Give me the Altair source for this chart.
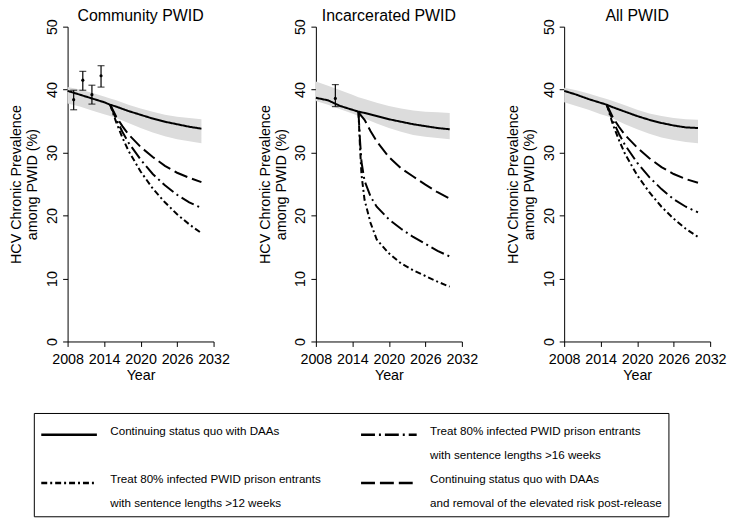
import json
import altair as alt
import pandas as pd

PANELS = ["Community PWID", "Incarcerated PWID", "All PWID"]

SQ_NAME = "Continuing status quo with DAAs"
T16_NAME = "Treat 80% infected PWID prison entrants with sentence lengths >16 weeks"
T12_NAME = "Treat 80% infected PWID prison entrants with sentence lengths >12 weeks"
REM_NAME = "Continuing status quo with DAAs and removal of the elevated risk post-release"

# legend entries fill column by column: (SQ, >12) | (>16, removal)
LEGEND_ORDER = [SQ_NAME, T12_NAME, T16_NAME, REM_NAME]
PAD = "\u00a0" * 8
LEGEND_LINES = [
    ["Continuing status quo with DAAs", ""],
    ["Treat 80% infected PWID prison entrants", "with sentence lengths >12 weeks"],
    ["Treat 80% infected PWID prison entrants", "with sentence lengths >16 weeks"],
    ["Continuing status quo with DAAs", "and removal of the elevated risk post-release" + PAD],
]
DASHES = [[1, 0], [6, 3, 2, 3], [14, 4, 2, 4], [14, 5]]

# Status quo line and uncertainty band
BASE_YEARS = [2008, 2010, 2012, 2014, 2015, 2016, 2018, 2020, 2022, 2024, 2026, 2028, 2030]
SQ = {
    "Community PWID":    [39.8, 39.2, 38.6, 38.0, 37.6, 37.3, 36.6, 36.0, 35.4, 34.9, 34.5, 34.1, 33.8],
    "Incarcerated PWID": [38.7, 38.3, 37.4, 36.8, 36.5, 36.3, 35.8, 35.3, 34.9, 34.5, 34.2, 33.9, 33.7],
    "All PWID":          [39.8, 39.2, 38.5, 37.9, 37.6, 37.2, 36.5, 35.8, 35.2, 34.7, 34.3, 34.0, 33.9],
}
BAND_LO = {
    "Community PWID":    [37.8, 37.3, 36.7, 36.1, 35.8, 35.5, 34.7, 33.9, 33.2, 32.6, 32.1, 31.8, 31.5],
    "Incarcerated PWID": [38.2, 37.6, 36.9, 36.2, 35.8, 35.4, 34.6, 33.9, 33.3, 32.8, 32.5, 32.3, 32.1],
    "All PWID":          [38.0, 37.4, 36.8, 36.1, 35.8, 35.4, 34.5, 33.7, 33.0, 32.4, 32.0, 31.7, 31.5],
}
BAND_HI = {
    "Community PWID":    [40.4, 40.0, 39.5, 38.9, 38.6, 38.3, 37.6, 37.0, 36.5, 36.0, 35.7, 35.5, 35.3],
    "Incarcerated PWID": [41.3, 40.6, 39.9, 39.2, 38.8, 38.5, 37.9, 37.4, 37.0, 36.7, 36.5, 36.4, 36.3],
    "All PWID":          [40.3, 39.9, 39.4, 38.8, 38.5, 38.2, 37.5, 36.8, 36.2, 35.8, 35.5, 35.3, 35.2],
}

# Intervention scenarios (start 2015)
INT_YEARS = {
    "Community PWID":    [2015, 2016, 2017, 2018, 2020, 2022, 2024, 2026, 2028, 2030],
    "Incarcerated PWID": [2015, 2015.25, 2015.5, 2016, 2017, 2018, 2020, 2022, 2024, 2026, 2028, 2030],
    "All PWID":          [2015, 2016, 2017, 2018, 2020, 2022, 2024, 2026, 2028, 2030],
}
TREAT16 = {
    "Community PWID":    [37.6, 35.3, 33.3, 31.6, 28.9, 26.6, 24.8, 23.3, 22.1, 21.2],
    "Incarcerated PWID": [36.5, 32.0, 28.5, 25.5, 23.0, 21.4, 19.4, 17.9, 16.6, 15.5, 14.4, 13.5],
    "All PWID":          [37.6, 35.1, 33.0, 31.2, 28.4, 26.1, 24.2, 22.6, 21.4, 20.5],
}
TREAT12 = {
    "Community PWID":    [37.6, 34.8, 32.4, 30.3, 27.0, 24.3, 22.1, 20.2, 18.6, 17.2],
    "Incarcerated PWID": [36.5, 31.0, 26.5, 22.5, 18.8, 16.2, 14.0, 12.4, 11.3, 10.4, 9.5, 8.7],
    "All PWID":          [37.6, 34.5, 32.0, 29.8, 26.4, 23.7, 21.4, 19.5, 17.9, 16.6],
}
REMOVAL = {
    "Community PWID":    [37.6, 35.7, 34.2, 32.9, 30.9, 29.3, 27.9, 26.8, 26.0, 25.3],
    "Incarcerated PWID": [36.5, 36.1, 35.8, 35.2, 33.4, 31.8, 29.3, 27.5, 26.2, 24.9, 23.7, 22.7],
    "All PWID":          [37.6, 35.6, 34.1, 32.8, 30.8, 29.1, 27.7, 26.6, 25.8, 25.2],
}

# Observed data with 95% CI
OBS_PANEL = ["Community PWID"] * 4 + ["Incarcerated PWID"]
OBS_YEAR = [2009, 2010.5, 2012, 2013.5, 2011.2]
OBS_MID = [38.4, 41.5, 39.2, 42.2, 38.6]
OBS_LO = [36.8, 39.9, 37.7, 40.4, 37.3]
OBS_HI = [39.9, 42.9, 40.7, 43.8, 40.8]

band_rows, line_rows = [], []
for p in PANELS:
    for i, yr in enumerate(BASE_YEARS):
        band_rows.append({"panel": p, "year": yr, "lo": BAND_LO[p][i], "hi": BAND_HI[p][i]})
        line_rows.append({"panel": p, "year": yr, "value": SQ[p][i], "scenario": SQ_NAME})
    for scen, vals in zip([T16_NAME, T12_NAME, REM_NAME], [TREAT16, TREAT12, REMOVAL]):
        for yr, v in zip(INT_YEARS[p], vals[p]):
            line_rows.append({"panel": p, "year": yr, "value": v, "scenario": scen})
band_df = pd.DataFrame(band_rows)
line_df = pd.DataFrame(line_rows)
obs_df = pd.DataFrame({"panel": OBS_PANEL, "year": OBS_YEAR, "mid": OBS_MID, "lo": OBS_LO, "hi": OBS_HI})

FONT = "Liberation Sans"

label_expr = " : ".join(
    f"datum.label == {json.dumps(s)} ? {json.dumps(lines)}" for s, lines in zip(LEGEND_ORDER, LEGEND_LINES)
) + " : datum.label"

xscale = alt.Scale(domain=[2008, 2032], nice=False, zero=False)
yscale = alt.Scale(domain=[0, 50], nice=False)


def make_panel(p):
    xaxis = alt.Axis(values=[2008, 2014, 2020, 2026, 2032], format="d", title="Year",
                     tickSize=5, labelPadding=6, titlePadding=3, labelFlush=False)
    yaxis = alt.Axis(values=[0, 10, 20, 30, 40, 50], title=["HCV Chronic Prevalence", "among PWID (%)"],
                     labelAngle=270, labelAlign="center", labelBaseline="bottom",
                     tickSize=5, labelPadding=3, titlePadding=5, titleLineHeight=16)
    x = alt.X("year:Q", scale=xscale, axis=xaxis)
    band = alt.Chart(band_df[band_df.panel == p]).mark_area(color="#dcdcdc").encode(
        x=x, y=alt.Y("lo:Q", scale=yscale, axis=yaxis), y2="hi:Q")
    lines = alt.Chart(line_df[line_df.panel == p]).mark_line(color="black", strokeWidth=2).encode(
        x=x, y=alt.Y("value:Q", scale=yscale, axis=yaxis),
        strokeDash=alt.StrokeDash(
            "scenario:N",
            scale=alt.Scale(domain=LEGEND_ORDER, range=DASHES),
            legend=alt.Legend(
                orient="none", legendX=-34, legendY=389, columns=2, title=None,
                symbolType="M-2,0H2", symbolSize=784, symbolStrokeWidth=2.5,
                symbolStrokeColor="black", symbolOffset=14,
                labelFont=FONT, labelFontSize=11.7,
                labelColor="black", labelExpr=label_expr, labelLimit=500,
                labelBaseline="alphabetic", labelOffset=26,
                strokeColor="black", padding=6, columnPadding=35, rowPadding=6,
            ),
        ),
        order="year:Q",
    )
    layers = [band, lines]
    sub = obs_df[obs_df.panel == p]
    if len(sub):
        err = alt.Chart(sub).mark_rule(color="black", strokeWidth=1.2).encode(
            x=x, y=alt.Y("lo:Q", scale=yscale, axis=yaxis), y2="hi:Q")
        cap_lo = alt.Chart(sub).mark_tick(color="black", orient="horizontal", size=7, thickness=1.2).encode(
            x=x, y=alt.Y("lo:Q", scale=yscale, axis=yaxis))
        cap_hi = alt.Chart(sub).mark_tick(color="black", orient="horizontal", size=7, thickness=1.2).encode(
            x=x, y=alt.Y("hi:Q", scale=yscale, axis=yaxis))
        pts = alt.Chart(sub).mark_point(color="black", filled=True, size=10, opacity=1).encode(
            x=x, y=alt.Y("mid:Q", scale=yscale, axis=yaxis))
        layers += [err, cap_lo, cap_hi, pts]
    return alt.layer(*layers).properties(
        width=147, height=317,
        title=alt.TitleParams(text=p, fontSize=16, fontWeight="normal", font=FONT,
                              color="black", offset=-5.5, anchor="middle"),
    )


chart = alt.hconcat(*[make_panel(p) for p in PANELS], spacing=103, bounds="flush").properties(
    padding={"left": 0, "top": -2, "right": 5, "bottom": 5}
).configure(
    style={"guide-label": {"lineHeight": 24}}
).configure_view(stroke=None).configure_axis(
    domainColor="black", tickColor="black", labelColor="black", titleColor="black",
    labelFont=FONT, titleFont=FONT, labelFontSize=14.4, titleFontSize=14.4,
    titleFontWeight="normal", grid=False, domainWidth=1, tickWidth=1,
)

chart.save("out.html", embed_options={"renderer": "svg", "actions": False})
